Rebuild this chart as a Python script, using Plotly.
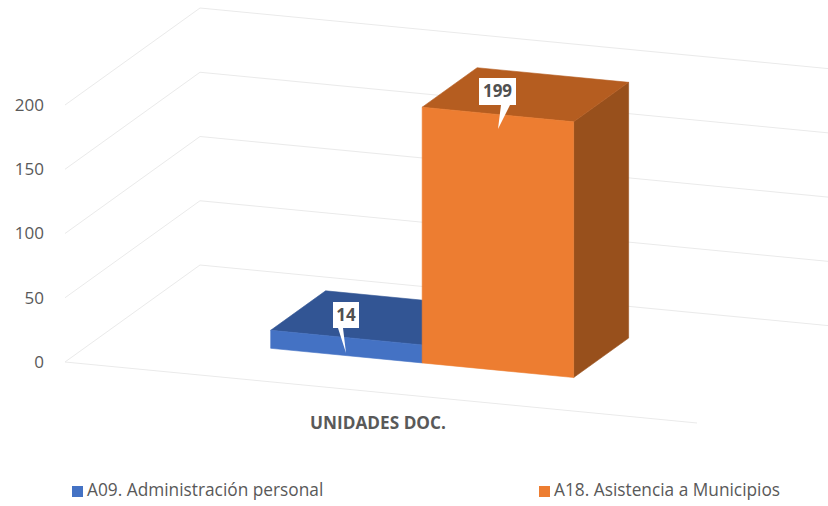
import plotly.graph_objects as go

# --- data ---
category = "UNIDADES DOC."
series_names = ["A09. Administración personal", "A18. Asistencia a Municipios"]
series_values = [14, 199]
value_ticks = [0, 50, 100, 150, 200]

# --- styles ---
front_colors = ["#4472C4", "#ED7D31"]
top_colors = ["#325594", "#B55D20"]
side_colors = ["#2A4A80", "#98501C"]
grid_color = "#EAEAEA"
text_color = "#595959"
font = "Open Sans"

# --- oblique projection of the 3D box: pixels of the 828x506 canvas ---
X0, Y0 = 65.0, 362.0        # front-left corner of the floor
PX_PER_UNIT = 1.285         # vertical pixels per value unit
FLOOR_W, SLOPE = 632.0, 0.0965
DEPTH_X, DEPTH_Y = 135.0, 97.0
AXIS_ROW, PLOT_LEFT = 411, 45


def val(py):
    """Canvas pixel row -> y-axis value."""
    return (Y0 - py) / PX_PER_UNIT


def proj(u, w, v):
    """u: px along the floor, w: depth 0..1, v: chart value -> axis coords."""
    x = X0 + u + DEPTH_X * w
    py = Y0 + SLOPE * u - DEPTH_Y * w
    return x, val(py) + v


def poly(points, color, name):
    xs, ys = zip(*[proj(*p) for p in points])
    return go.Scatter(x=list(xs) + [xs[0]], y=list(ys) + [ys[0]], mode="lines",
                      fill="toself", fillcolor=color, line=dict(width=0.6, color=color),
                      name=name, showlegend=False, hoverinfo="skip")


fig = go.Figure()

# walls and floor grid
for t in value_ticks:
    pts = [proj(0, 0, t), proj(0, 1, t), proj(FLOOR_W, 1, t)]
    fig.add_trace(go.Scatter(x=[p[0] for p in pts], y=[p[1] for p in pts], mode="lines",
                             line=dict(color=grid_color, width=1), showlegend=False,
                             hoverinfo="skip"))
pts = [proj(0, 0, 0), proj(FLOOR_W, 0, 0)]
fig.add_trace(go.Scatter(x=[p[0] for p in pts], y=[p[1] for p in pts], mode="lines",
                         line=dict(color=grid_color, width=1), showlegend=False,
                         hoverinfo="skip"))

# bars
BAR_W, BAR_U0, W0, W1 = 151.5, 164.5, 0.305, 0.712
for i, (name, value) in enumerate(zip(series_names, series_values)):
    u0 = BAR_U0 + i * BAR_W
    u1 = u0 + BAR_W
    fig.add_trace(poly([(u1, W0, 0), (u1, W1, 0), (u1, W1, value), (u1, W0, value)], side_colors[i], name))
    fig.add_trace(poly([(u0, W0, value), (u1, W0, value), (u1, W1, value), (u0, W1, value)], top_colors[i], name))
    fig.add_trace(poly([(u0, W0, 0), (u1, W0, 0), (u1, W0, value), (u0, W0, value)], front_colors[i], name))

# data-label callouts (box + tail), canvas pixels
callouts = [
    dict(box=(333, 359, 302, 328), tail=((338, 328), (346, 353), (343, 328))),
    dict(box=(479, 516, 78, 105), tail=((501, 105), (498, 129), (510, 105))),
]
for c, value in zip(callouts, series_values):
    l, r, t, b = c["box"]
    (a, tip, e) = c["tail"]
    xs = [l, a[0], tip[0], e[0], r, r, l, l]
    ys = [b, a[1], tip[1], e[1], b, t, t, b]
    fig.add_trace(go.Scatter(x=xs, y=[val(p) for p in ys], mode="lines", fill="toself",
                             fillcolor="white", line=dict(width=0, color="white"),
                             showlegend=False, hoverinfo="skip"))
    fig.add_trace(go.Scatter(x=[(l + r) / 2], y=[val((t + b) / 2 + 1.5)], mode="text", text=[str(value)],
                             textposition="middle center",
                             textfont=dict(family=font, size=17, color="#505050", weight="bold"),
                             showlegend=False, hoverinfo="skip"))

# legend row
swatch_x = [77.5, 544.5]
label_x = [87, 554]
for i, name in enumerate(series_names):
    fig.add_trace(go.Scatter(x=[swatch_x[i]], y=[val(491.5)], mode="markers", name=name,
                             marker=dict(symbol="square", size=11, color=front_colors[i]),
                             showlegend=False))
    fig.add_trace(go.Scatter(x=[label_x[i]], y=[val(492)], mode="text", text=[name],
                             textposition="middle right", name=name,
                             textfont=dict(family=font, size=17.3, color=text_color),
                             showlegend=False))

fig.update_layout(
    width=828, height=506, autosize=False,
    margin=dict(l=PLOT_LEFT, r=0, t=0, b=0, pad=0),
    paper_bgcolor="white", plot_bgcolor="white", showlegend=False,
    font=dict(family=font, color=text_color),
    xaxis=dict(range=[PLOT_LEFT, 828], showgrid=False, zeroline=False, showline=False,
               anchor="free", position=(506 - AXIS_ROW) / 506,
               tickmode="array", tickvals=[378], ticktext=[f"<b>{category}</b>"], ticklen=0,
               tickfont=dict(family=font, size=17.2, color=text_color)),
    yaxis=dict(range=[val(506), val(0)], showgrid=False, zeroline=False, showline=False,
               tickmode="array", tickvals=value_ticks, ticklen=0,
               tickfont=dict(family=font, size=17, color=text_color)),
)

fig.write_html("out.html", config=dict(displayModeBar=False),
               post_script="document.body.style.margin='0';document.documentElement.style.overflow='hidden';")
